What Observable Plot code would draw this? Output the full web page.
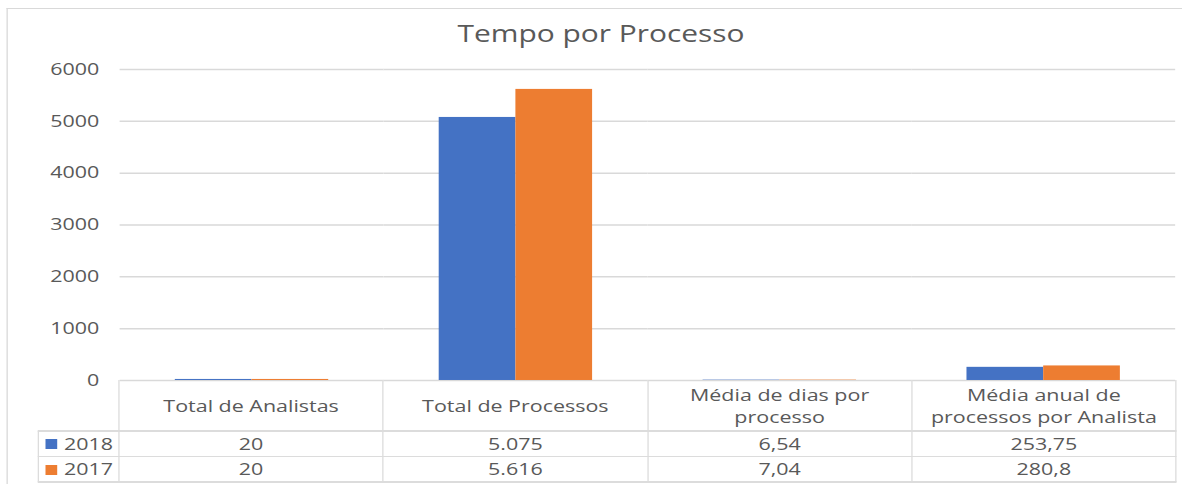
<!DOCTYPE html>
<html><head><meta charset="utf-8">
<script src="https://cdn.jsdelivr.net/npm/d3@7"></script>
<script src="https://cdn.jsdelivr.net/npm/@observablehq/plot@0.6"></script>
<style>
html,body{margin:0;padding:0;background:#fff;overflow:hidden;width:1182px;height:484px}
#stage{position:absolute;left:0;top:0;height:484px;transform-origin:0 0;font-family:"Open Sans",sans-serif;color:#595959}
.abs{position:absolute}
.cell{position:absolute;display:flex;align-items:center;justify-content:center;text-align:center;white-space:pre-line;font-size:16.5px;line-height:22px}
.ln{position:absolute;background:#dcdcdc}
</style></head><body><div id="stage"></div>
<script>
// ---- data ----
const title = "Tempo por Processo";
const categories = ["Total de Analistas", "Total de Processos", "Média de dias por\nprocesso", "Média anual de\nprocessos por Analista"];
const series = ["2018", "2017"];
const values2018 = [20, 5075, 6.54, 253.75];
const values2017 = [20, 5616, 7.04, 280.8];
const yTicks = [0, 1000, 2000, 3000, 4000, 5000, 6000];
const colors = ["#4472C4", "#ED7D31"];

// ---- layout ----
const S = 1.3;                 // horizontal stretch of the picture
const FW = 1182;
const stage = document.getElementById("stage");
stage.style.width = (FW / S) + "px";
stage.style.transform = `scaleX(${S})`;
const X = v => v / S;          // final px -> stage px

const plotLeft = 119, plotRight = 1176, plotTop = 69, plotBottom = 380;
const svgTop = 50;

const seriesValues = [values2018, values2017];
const data = categories.flatMap((c, i) => series.map((s, j) => ({category: c, series: s, value: seriesValues[j][i]})));

// outer border
const border = document.createElement("div");
border.className = "abs";
Object.assign(border.style, {left: X(7) + "px", top: "8px", width: X(1182) + "px", height: "500px", borderTop: "1px solid #d9d9d9", borderLeft: X(1.2) + "px solid #d9d9d9"});
stage.appendChild(border);

// title
const t = document.createElement("div");
t.className = "abs";
t.textContent = title;
Object.assign(t.style, {left: "0px", width: X(1202) + "px", textAlign: "center", top: "21.5px", fontSize: "23px", lineHeight: "1"});
stage.appendChild(t);

// chart
const chart = Plot.plot({
  width: X(FW), height: plotBottom - svgTop,
  marginTop: plotTop - svgTop, marginBottom: 0,
  marginLeft: X(plotLeft), marginRight: X(FW - plotRight),
  style: {fontFamily: '"Open Sans",sans-serif', fontSize: "16.5px", color: "#595959", background: "transparent", overflow: "visible"},
  fx: {domain: categories, padding: 0, axis: null},
  x: {domain: series, paddingInner: 0, paddingOuter: 0.72, axis: null},
  y: {domain: [0, 6000]},
  color: {domain: series, range: colors},
  marks: [
    Plot.gridY(yTicks, {stroke: "#d9d9d9", strokeOpacity: 1, strokeWidth: 1.5}),
    Plot.axisY(yTicks, {tickSize: 0, tickPadding: X(21), label: null, tickFormat: d => String(d), fill: "#595959"}),
    Plot.barY(data, {fx: "category", x: "series", y: "value", fill: "series"})
  ]
});
chart.style.position = "absolute";
chart.style.left = "0px";
chart.style.top = svgTop + "px";
stage.appendChild(chart);

// data table
const fmt = d3.formatLocale({decimal: ",", thousands: ".", grouping: [3], currency: ["R$", ""]}).format(",~f");
const step = (plotRight - plotLeft) / categories.length;
const headerBottom = 431, rowH = 25.5, legendLeft = 38;
function line(x, y, w, h) {
  const d = document.createElement("div");
  d.className = "ln";
  Object.assign(d.style, {left: X(x) + "px", top: y + "px", width: X(w) + "px", height: h + "px"});
  stage.appendChild(d);
}
function cell(x, y, w, h, text) {
  const d = document.createElement("div");
  d.className = "cell";
  d.textContent = text;
  Object.assign(d.style, {left: X(x) + "px", top: y + "px", width: X(w) + "px", height: h + "px"});
  stage.appendChild(d);
  return d;
}
categories.forEach((c, i) => {
  cell(plotLeft + i * step, plotBottom, step, headerBottom - plotBottom, c);
  series.forEach((s, j) => cell(plotLeft + i * step, headerBottom + j * rowH, step, rowH, fmt(seriesValues[j][i])));
});
series.forEach((s, j) => {
  const y = headerBottom + j * rowH;
  const sw = document.createElement("div");
  sw.className = "abs";
  Object.assign(sw.style, {left: X(46) + "px", top: (y + 8) + "px", width: X(11) + "px", height: "10px", background: colors[j]});
  stage.appendChild(sw);
  const lb = cell(64, y, plotLeft - 64, rowH, s);
  lb.style.justifyContent = "flex-start";
});
// table rules
const tableBottom = headerBottom + series.length * rowH;
[headerBottom, headerBottom + rowH, tableBottom].forEach(y => line(legendLeft, y - 0.75, plotRight - legendLeft + 1, 1.5));
line(legendLeft - 0.75, headerBottom, 1.5, tableBottom - headerBottom);
for (let i = 0; i <= categories.length; i++) line(plotLeft + i * step - 0.75, plotBottom, 1.5, tableBottom - plotBottom);
</script></body></html>
